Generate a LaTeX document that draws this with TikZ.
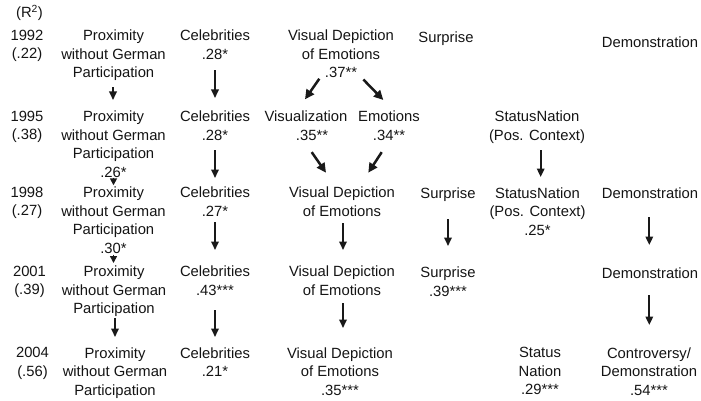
\documentclass[tikz,border=0pt]{standalone}
\usepackage{fontspec}
\setmainfont{Liberation Sans}
\usetikzlibrary{arrows.meta,calc}
\begin{document}
\begin{tikzpicture}[x=1pt,y=-1pt,
  lbl/.style={anchor=north, align=center, inner sep=0pt, text=black!92,
              font=\fontsize{14.8}{18.5}\selectfont},
  arr/.style={line width=1.8pt, black!90, -{Triangle[length=8.5pt,width=7.5pt]}},
  diag/.style={line width=2.5pt, black!90, -{Triangle[length=9.5pt,width=9pt]}},
  tiny/.style={line width=1.6pt, black!90, -{Triangle[length=7pt,width=7pt]}}]
\useasboundingbox (0,0) rectangle (701,401);

% years and R^2
\node[lbl, anchor=base] (r2) at (29.5,17.5) {(R\textsuperscript{2})};
\node[lbl] (y92) at (27,29.9) {1992\\(.22)};
\node[lbl] (y95) at (27,110.9) {1995\\(.38)};
\node[lbl] (y98) at (27,186.9) {1998\\(.27)};
\node[lbl] (y01) at (29.5,265.9) {2001\\(.39)};
\node[lbl] (y04) at (32.5,347.4) {2004\\(.56)};

% proximity
\node[lbl] (p92) at (113.5,29.9) {Proximity\\without German\\Participation};
\node[lbl] (p95) at (113.5,110.9) {Proximity\\without German\\Participation\\.26*};
\node[lbl] (p98) at (113.5,186.9) {Proximity\\without German\\Participation\\.30*};
\node[lbl] (p01) at (114,265.9) {Proximity\\without German\\Participation};
\node[lbl] (p04) at (115,347.4) {Proximity\\without German\\Participation};

% celebrities
\node[lbl] (c92) at (215,29.9) {Celebrities\\.28*};
\node[lbl] (c95) at (215,110.9) {Celebrities\\.28*};
\node[lbl] (c98) at (215,186.9) {Celebrities\\.27*};
\node[lbl] (c01) at (215,265.9) {Celebrities\\.43***};
\node[lbl] (c04) at (215,347.4) {Celebrities\\.21*};

% visual depiction
\node[lbl] (v92) at (341,29.9) {Visual Depiction\\of Emotions\\.37**};
\node[lbl] (viz95) at (306,110.9) {Visualization\\\hspace*{12pt}.35**};
\node[lbl] (emo95) at (389,110.9) {Emotions\\.34**};
\node[lbl] (v98) at (342,186.9) {Visual Depiction\\of Emotions};
\node[lbl] (v01) at (342,265.9) {Visual Depiction\\of Emotions};
\node[lbl] (v04) at (340,347.4) {Visual Depiction\\of Emotions\\.35***};

% surprise
\node[lbl] (s92) at (446,31.9) {Surprise};
\node[lbl] (s98) at (448,187.9) {Surprise};
\node[lbl] (s01) at (448,266.9) {Surprise\\.39***};

% status nation
\node[lbl] (st95) at (537,110.9) {StatusNation\\(Pos. Context)};
\node[lbl] (st98) at (537.5,187.4) {StatusNation\\(Pos. Context)\\.25*};
\node[lbl] (st04) at (540,347.4) {Status\\Nation\\.29***};

% demonstration
\node[lbl] (d92) at (650,36.9) {Demonstration};
\node[lbl] (d98) at (650,187.9) {Demonstration};
\node[lbl] (d01) at (650,267.9) {Demonstration};
\node[lbl] (d04) at (649,347.4) {Controversy/\\Demonstration\\.54***};

% proximity arrows
\draw[arr] ($(p92.south)+(-0.5,6.4)$) -- ($(p95.north)+(-0.5,-10.9)$);
\draw[tiny] ($(p95.south)+(0,0)$) -- ($(p98.north)+(0,-1.6)$);
\draw[tiny] ($(p98.south)+(0,1)$) -- ($(p01.north)+(-0.5,-2.9)$);
\draw[arr] ($(p01.south)+(1,1.4)$) -- ($(p04.north)+(0,-10.4)$);

% celebrities arrows
\draw[arr] ($(c92.south)+(0,10.8)$) -- ($(c95.north)+(0,-12.9)$);
\draw[arr] ($(c95.south)+(0,9.8)$) -- ($(c98.north)+(0,-8.9)$);
\draw[arr] ($(c98.south)+(0,5.8)$) -- ($(c01.north)+(0,-15.9)$);
\draw[arr] ($(c01.south)+(0,14.8)$) -- ($(c04.north)+(0,-10.4)$);

% visual arrows
\draw[diag] ($(v92.south)+(-21.7,0.6)$) -- ($(viz95.north)+(-1,-11.6)$);
\draw[diag] ($(v92.south)+(22.3,1.3)$) -- ($(emo95.north)+(-5.7,-10.9)$);
\draw[diag] ($(viz95.south)+(5.7,11.5)$) -- ($(v98.north)+(-16,-14.2)$);
\draw[diag] ($(emo95.south)+(-7.3,11.5)$) -- ($(v98.north)+(26.3,-14.2)$);
\draw[arr] ($(v98.south)+(1,6.8)$) -- ($(v01.north)+(1,-15.9)$);
\draw[arr] ($(v01.south)+(1,7.8)$) -- ($(v04.north)+(3,-19.4)$);

% surprise, status, demonstration arrows
\draw[arr] ($(s98.south)+(0,17.4)$) -- ($(s01.north)+(0,-20.9)$);
\draw[arr] ($(st95.south)+(3.7,6.9)$) -- ($(st98.north)+(3.2,-10.4)$);
\draw[arr] ($(d98.south)+(-0.7,18)$) -- ($(d01.north)+(-0.7,-22.9)$);
\draw[arr] ($(d01.south)+(-0.7,16.3)$) -- ($(d04.north)+(0.3,-22.4)$);
\end{tikzpicture}
\end{document}
